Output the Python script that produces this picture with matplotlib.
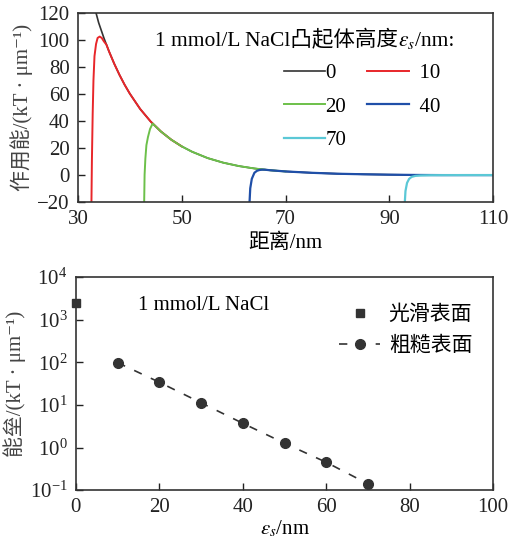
import numpy as np
import matplotlib
matplotlib.use('Agg')
import matplotlib.pyplot as plt
from matplotlib.offsetbox import TextArea, HPacker, AnchoredOffsetbox
from matplotlib.ticker import NullLocator, FixedLocator

plt.rcParams['font.family'] = ['Liberation Serif', 'Noto Sans CJK SC', 'DejaVu Serif']
plt.rcParams['mathtext.fontset'] = 'stix'
plt.rcParams['font.size'] = 15

# ---- top panel: interaction energy vs distance
x0 = [33.5, 34, 35, 36, 37, 38, 39, 40, 42, 44, 46, 48, 50, 52, 55, 58, 61, 64, 67, 70,
      75, 80, 85, 90, 95, 100, 105, 110]
y0 = [120, 112.8, 101.6, 91.5, 82.4, 74.2, 66.8, 60.2, 48.8, 39.6, 32.1, 26.0, 21.1, 17.1,
      12.4, 9.0, 6.5, 4.7, 3.4, 2.5, 1.5, 0.8, 0.4, 0.1, -0.1, -0.2, -0.2, -0.2]

x10 = [32.6, 32.7, 32.85, 33.0, 33.2, 33.5, 33.8, 34.2, 34.6, 35.0, 35.5, 36, 37, 38, 39, 40,
       42, 44, 46, 48, 50]
y10 = [-25, 10, 45, 70, 88, 97, 101.5, 102.5, 101.5, 99, 96.5, 91.5, 82.4, 74.2, 66.8, 60.2,
       48.8, 39.6, 32.1, 26.0, 21.1]

x20 = [42.75, 42.85, 43.0, 43.2, 43.5, 43.9, 44.4, 46, 48, 50, 52, 55, 58, 61, 64, 67, 70]
y20 = [-25, 0, 12, 22, 28, 34, 38.0, 32.1, 26.0, 21.1, 17.1, 12.4, 9.0, 6.5, 4.7, 3.4, 2.5]

x40 = [63.0, 63.2, 63.5, 64.0, 64.5, 65.0, 65.5, 66, 67, 70, 75, 80, 85, 90, 95, 100, 105, 110]
y40 = [-25, -10, -3, 1.5, 3.0, 3.6, 3.8, 3.8, 3.4, 2.5, 1.5, 0.8, 0.4, 0.1, -0.1, -0.2, -0.2, -0.2]

x70 = [92.9, 93.1, 93.4, 93.8, 94.3, 95, 96, 98, 100, 105, 110]
y70 = [-25, -12, -6, -3, -1.5, -0.8, -0.5, -0.3, -0.25, -0.2, -0.2]

# ---- bottom panel: energy barrier vs asperity height
eps_smooth = [0]
eb_smooth = [2450]
eps_rough = [10, 20, 30, 40, 50, 60, 70]
eb_rough = [98, 34, 11.2, 3.7, 1.26, 0.45, 0.14]

fig = plt.figure(figsize=(5.09, 5.41), dpi=100)
ax1 = fig.add_axes([0.153, 0.627, 0.816, 0.349])
ax2 = fig.add_axes([0.149, 0.094, 0.820, 0.394])

ax1.plot(x0, y0, color='#333333', lw=1.2, label='0')
ax1.plot(x10, y10, color='#e8262a', lw=1.4, label='  10')
ax1.plot(x20, y20, color='#6cc04a', lw=1.4, label='20')
ax1.plot(x40, y40, color='#1f4fa8', lw=1.6, label='  40')
ax1.plot(x70, y70, color='#5bc8d6', lw=1.6, label='70')
ax1.set_xlim(30, 110)
ax1.set_ylim(-20, 120)
ax1.xaxis.set_major_locator(FixedLocator([30, 50, 70, 90, 110]))
ax1.yaxis.set_major_locator(FixedLocator(np.arange(-20, 121, 20)))
ax1.set_xlabel('距离/nm', labelpad=3)
ax1.set_ylabel('作用能/(kT · μm⁻¹)', labelpad=3, color='#444444')

h, l = ax1.get_legend_handles_labels()
order = [0, 2, 4, 1, 3]
ax1.legend([h[i] for i in order], [l[i] for i in order], ncol=2, frameon=False,
           loc='upper left', bbox_to_anchor=(0.45, 0.83), handlelength=2.0,
           handletextpad=0.0, columnspacing=1.0, labelspacing=0.66, fontsize=15)

title = HPacker(children=[TextArea('1 mmol/L NaCl凸起体高度', textprops=dict(fontsize=15.5)),
                          TextArea(r'$\varepsilon_s$', textprops=dict(fontsize=15.5)),
                          TextArea('/nm:', textprops=dict(fontsize=15.5))],
                align='baseline', pad=0, sep=0)
ab = AnchoredOffsetbox(loc='center left', child=title, frameon=False,
                       bbox_to_anchor=(0.185, 0.855), bbox_transform=ax1.transAxes,
                       borderpad=0, pad=0)
ax1.add_artist(ab)

ax2.plot(eps_smooth, eb_smooth, 's', color='#333333', ms=6, clip_on=False, zorder=5,
         label='光滑表面')
ax2.plot(eps_rough, eb_rough, '--o', color='#333333', ms=7, lw=1.2, dashes=(5, 6),
         label='粗糙表面')
ax2.set_yscale('log')
ax2.set_xlim(0, 100)
ax2.set_ylim(0.1, 1e4)
ax2.xaxis.set_major_locator(FixedLocator([0, 20, 40, 60, 80, 100]))
ax2.yaxis.set_minor_locator(NullLocator())
ax2.set_ylabel('能垒/(kT · μm⁻¹)', labelpad=3, color='#444444')
ax2.set_xlabel(r'$\varepsilon_s$/nm', labelpad=1)
ax2.text(0.149, 0.865, '1 mmol/L NaCl', transform=ax2.transAxes, fontsize=15,
         va='center', ha='left')
ax2.legend(frameon=False, loc='upper left', bbox_to_anchor=(0.585, 0.955),
           handlelength=2.0, handletextpad=0.4, labelspacing=0.55, fontsize=15)

for ax in (ax1, ax2):
    ax.tick_params(direction='in', length=5, width=1, top=False, right=False,
                   labelsize=15, pad=6, colors='#222222')
    for s in ax.spines.values():
        s.set_linewidth(1.2)
        s.set_color('#333333')

fig.savefig('out.png', dpi=100)
